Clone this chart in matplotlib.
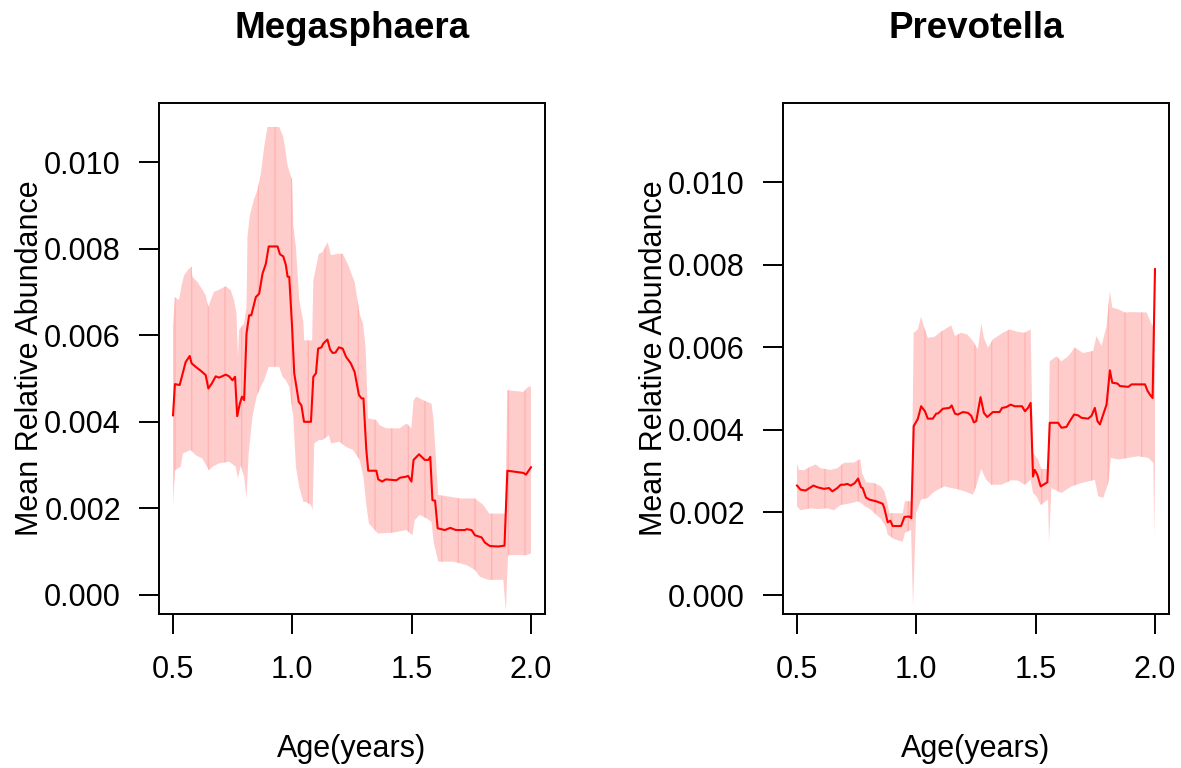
import numpy as np
import matplotlib.pyplot as plt

plt.rcParams['font.family'] = ['Liberation Sans', 'DejaVu Sans']

# ---- Megasphaera ----
mega_x = [0.500, 0.508, 0.528, 0.553, 0.570, 0.578, 0.595, 0.616, 0.637, 0.648, 0.662, 0.679, 0.693,
          0.721, 0.735, 0.749, 0.760, 0.769, 0.780, 0.789, 0.798, 0.808, 0.819, 0.828, 0.847, 0.861,
          0.875, 0.889, 0.901, 0.938, 0.948, 0.962, 0.973, 0.980, 0.987, 0.999, 1.008, 1.015, 1.027,
          1.038, 1.049, 1.078, 1.088, 1.099, 1.108, 1.122, 1.130, 1.147, 1.158, 1.169, 1.181, 1.195,
          1.211, 1.225, 1.245, 1.261, 1.279, 1.290, 1.298, 1.310, 1.318, 1.352, 1.360, 1.377, 1.391,
          1.436, 1.452, 1.475, 1.485, 1.499, 1.508, 1.531, 1.555, 1.570, 1.578, 1.587, 1.598, 1.609,
          1.639, 1.648, 1.662, 1.685, 1.723, 1.730, 1.751, 1.765, 1.793, 1.807, 1.828, 1.863, 1.889,
          1.901, 1.968, 1.979, 2.000]
mega_mean = [4.15, 4.87, 4.85, 5.38, 5.52, 5.35, 5.27, 5.18, 5.08, 4.77, 4.88, 5.05, 5.02,
             5.09, 5.05, 4.96, 5.04, 4.13, 4.42, 4.58, 4.50, 6.04, 6.46, 6.46, 6.88, 6.96,
             7.42, 7.65, 8.05, 8.05, 7.87, 7.82, 7.62, 7.35, 7.35, 6.19, 5.12, 4.88, 4.46,
             4.38, 4.00, 4.00, 5.04, 5.12, 5.69, 5.72, 5.81, 5.90, 5.67, 5.59, 5.60, 5.72,
             5.69, 5.50, 5.35, 5.15, 4.62, 4.54, 4.54, 3.35, 2.87, 2.87, 2.67, 2.62, 2.67,
             2.65, 2.71, 2.73, 2.75, 2.62, 3.12, 3.25, 3.12, 3.12, 3.19, 2.19, 2.18, 1.54,
             1.50, 1.52, 1.55, 1.50, 1.50, 1.52, 1.50, 1.38, 1.33, 1.21, 1.13, 1.12, 1.14,
             2.87, 2.82, 2.78, 2.95]

mega_hi_x = [0.500, 0.508, 0.525, 0.536, 0.546, 0.567, 0.578, 0.581, 0.602, 0.620, 0.637, 0.648, 0.658,
             0.672, 0.693, 0.721, 0.742, 0.756, 0.766, 0.772, 0.777, 0.798, 0.808, 0.812, 0.822, 0.840,
             0.854, 0.868, 0.882, 0.896, 0.945, 0.962, 0.971, 0.980, 0.999, 1.004, 1.015, 1.029, 1.046,
             1.050, 1.083, 1.088, 1.111, 1.127, 1.148, 1.162, 1.190, 1.211, 1.232, 1.261, 1.282, 1.296,
             1.307, 1.317, 1.352, 1.366, 1.394, 1.450, 1.478, 1.499, 1.508, 1.520, 1.548, 1.583, 1.592,
             1.611, 1.660, 1.702, 1.765, 1.800, 1.825, 1.892, 1.901, 1.968, 1.989, 2.000]
mega_hi = [6.21, 6.88, 6.81, 7.15, 7.38, 7.54, 7.58, 7.35, 7.23, 7.08, 6.92, 6.65, 6.81,
           7.00, 7.05, 7.13, 7.04, 6.81, 6.50, 5.50, 6.12, 6.27, 6.65, 8.27, 8.77, 9.15,
           9.35, 9.73, 10.35, 10.81, 10.81, 10.58, 10.27, 9.92, 9.58, 8.54, 8.04, 6.81, 6.31,
           5.88, 5.88, 7.27, 7.88, 7.92, 8.15, 7.85, 7.88, 7.88, 7.65, 7.23, 6.50, 6.27,
           5.73, 4.08, 4.04, 3.92, 3.85, 3.85, 3.96, 3.85, 4.50, 4.58, 4.50, 4.42, 4.04,
           2.31, 2.27, 2.23, 2.23, 2.08, 1.88, 1.88, 4.73, 4.69, 4.81, 4.81]

mega_lo_x = [0.500, 0.508, 0.532, 0.542, 0.574, 0.595, 0.623, 0.651, 0.665, 0.693, 0.735, 0.763, 0.772,
             0.784, 0.798, 0.808, 0.817, 0.833, 0.850, 0.868, 0.882, 0.901, 0.945, 0.959, 0.973, 0.987,
             1.004, 1.015, 1.029, 1.046, 1.057, 1.078, 1.085, 1.092, 1.111, 1.127, 1.153, 1.162, 1.197,
             1.225, 1.254, 1.282, 1.298, 1.310, 1.321, 1.359, 1.422, 1.478, 1.503, 1.513, 1.534, 1.562,
             1.583, 1.592, 1.611, 1.674, 1.730, 1.765, 1.786, 1.821, 1.884, 1.895, 1.903, 1.982, 2.000]
mega_lo = [2.08, 2.88, 2.96, 3.27, 3.35, 3.23, 3.15, 2.88, 2.96, 3.04, 3.08, 2.96, 2.69,
           3.00, 2.73, 2.23, 3.27, 4.12, 4.58, 4.81, 4.96, 5.27, 5.27, 5.04, 4.96, 4.81,
           4.12, 2.96, 2.50, 2.15, 2.15, 2.08, 1.96, 3.50, 3.58, 3.58, 3.69, 3.50, 3.54,
           3.42, 3.35, 3.12, 2.73, 2.08, 1.65, 1.42, 1.44, 1.50, 1.38, 1.73, 1.85, 1.77,
           1.69, 1.23, 0.77, 0.77, 0.69, 0.58, 0.42, 0.35, 0.35, -0.38, 0.92, 0.92, 0.96]

# ---- Prevotella ----
prev_x = [0.500, 0.515, 0.536, 0.569, 0.585, 0.613, 0.634, 0.648, 0.669, 0.683, 0.697, 0.711, 0.725,
          0.742, 0.756, 0.768, 0.775, 0.789, 0.803, 0.831, 0.859, 0.866, 0.880, 0.891, 0.901, 0.936,
          0.950, 0.971, 0.979, 0.989, 1.006, 1.020, 1.036, 1.048, 1.069, 1.083, 1.092, 1.111, 1.139,
          1.148, 1.162, 1.174, 1.195, 1.216, 1.230, 1.241, 1.251, 1.269, 1.283, 1.297, 1.321, 1.349,
          1.359, 1.377, 1.395, 1.412, 1.443, 1.455, 1.468, 1.479, 1.489, 1.496, 1.507, 1.521, 1.538,
          1.549, 1.559, 1.594, 1.608, 1.629, 1.643, 1.661, 1.678, 1.692, 1.720, 1.734, 1.748, 1.759,
          1.769, 1.783, 1.797, 1.811, 1.821, 1.843, 1.853, 1.888, 1.902, 1.958, 1.969, 1.979, 1.990,
          2.000]
prev_mean = [2.65, 2.55, 2.53, 2.65, 2.61, 2.57, 2.59, 2.51, 2.59, 2.67, 2.67, 2.69, 2.65,
             2.71, 2.82, 2.61, 2.59, 2.36, 2.31, 2.27, 2.21, 2.10, 1.76, 1.80, 1.67, 1.67,
             1.89, 1.90, 1.86, 4.09, 4.26, 4.57, 4.45, 4.27, 4.27, 4.39, 4.40, 4.51, 4.53,
             4.59, 4.39, 4.37, 4.43, 4.41, 4.34, 4.18, 4.21, 4.79, 4.41, 4.31, 4.43, 4.43,
             4.53, 4.55, 4.61, 4.57, 4.57, 4.45, 4.53, 4.65, 2.87, 3.03, 2.91, 2.63, 2.69,
             2.73, 4.17, 4.17, 4.05, 4.07, 4.21, 4.37, 4.35, 4.29, 4.27, 4.34, 4.53, 4.21,
             4.13, 4.37, 4.61, 5.44, 5.14, 5.12, 5.06, 5.04, 5.10, 5.10, 4.94, 4.85, 4.77,
             7.89]

prev_hi_x = [0.500, 0.508, 0.529, 0.557, 0.578, 0.599, 0.641, 0.669, 0.697, 0.739, 0.765, 0.773, 0.789,
             0.824, 0.852, 0.866, 0.877, 0.887, 0.943, 0.952, 0.980, 0.989, 1.006, 1.020, 1.031, 1.048,
             1.076, 1.097, 1.118, 1.146, 1.162, 1.188, 1.213, 1.237, 1.258, 1.272, 1.283, 1.300, 1.321,
             1.363, 1.391, 1.426, 1.454, 1.479, 1.489, 1.510, 1.524, 1.552, 1.559, 1.587, 1.608, 1.636,
             1.664, 1.699, 1.741, 1.755, 1.776, 1.797, 1.811, 1.821, 1.846, 1.874, 1.902, 1.965, 1.986,
             1.993, 2.000]
prev_hi = [3.20, 3.03, 3.02, 3.11, 3.16, 3.07, 3.03, 3.07, 3.20, 3.21, 3.29, 2.95, 2.73,
           2.71, 2.63, 2.51, 2.27, 1.98, 1.98, 2.27, 2.27, 6.35, 6.43, 6.74, 6.51, 6.23,
           6.25, 6.35, 6.43, 6.53, 6.27, 6.35, 6.31, 6.15, 5.95, 6.58, 6.23, 5.99, 6.19,
           6.35, 6.43, 6.37, 6.35, 6.43, 3.44, 3.28, 3.05, 3.05, 5.66, 5.78, 5.66, 5.78,
           5.99, 5.86, 5.91, 6.27, 6.03, 6.51, 7.36, 6.96, 6.92, 6.84, 6.85, 6.84, 6.55,
           6.51, 8.13]

prev_lo_x = [0.500, 0.515, 0.557, 0.585, 0.627, 0.655, 0.683, 0.725, 0.756, 0.770, 0.782, 0.810, 0.852,
             0.873, 0.880, 0.908, 0.943, 0.952, 0.978, 0.986, 0.999, 1.020, 1.048, 1.069, 1.090, 1.118,
             1.146, 1.174, 1.202, 1.237, 1.251, 1.272, 1.293, 1.314, 1.356, 1.398, 1.426, 1.454, 1.479,
             1.489, 1.503, 1.521, 1.552, 1.556, 1.566, 1.608, 1.650, 1.692, 1.748, 1.762, 1.783, 1.804,
             1.815, 1.846, 1.930, 1.972, 1.993, 1.997, 2.000]
prev_lo = [2.14, 2.05, 2.10, 2.08, 2.10, 2.05, 2.18, 2.22, 2.27, 2.22, 2.16, 2.06, 1.84,
           1.64, 1.46, 1.35, 1.29, 1.50, 1.58, -0.28, 1.98, 2.31, 2.35, 2.47, 2.55, 2.63,
           2.59, 2.56, 2.51, 2.43, 2.63, 3.05, 2.79, 2.67, 2.67, 2.78, 2.77, 2.67, 2.79,
           2.47, 2.39, 2.18, 2.31, 1.25, 2.59, 2.47, 2.63, 2.71, 2.79, 2.39, 2.35, 2.71,
           3.32, 3.28, 3.36, 3.32, 3.20, 1.42, 3.12]

panels = [
    ("Megasphaera", mega_x, mega_mean, mega_hi_x, mega_hi, mega_lo_x, mega_lo, (-0.000439, 0.011363)),
    ("Prevotella", prev_x, prev_mean, prev_hi_x, prev_hi, prev_lo_x, prev_lo, (-0.00046, 0.011913)),
]

fig = plt.figure(figsize=(11.81, 7.68), dpi=100)
lefts = [159 / 1181, 783 / 1181]

for left, (title, x, m, hx, hi, lx, lo, ylim) in zip(lefts, panels):
    ax = fig.add_axes([left, 1 - 614 / 768, 386 / 1181, 511 / 768])
    # band polygon: upper edge forward, lower edge back
    px = list(hx) + list(lx)[::-1]
    py = [v / 1000 for v in hi] + [v / 1000 for v in lo][::-1]
    ax.fill(px, py, color='#FFCCCC', lw=0, hatch='|', edgecolor='#FFB3B3')
    ax.plot(x, [v / 1000 for v in m], color='red', lw=1.5)

    ax.set_xlim(0.4413, 2.0587)
    ax.set_ylim(*ylim)
    ax.set_xticks([0.5, 1.0, 1.5, 2.0])
    ax.set_xticklabels(['0.5', '1.0', '1.5', '2.0'])
    ax.set_yticks([0.000, 0.002, 0.004, 0.006, 0.008, 0.010])
    ax.set_yticklabels(['%.3f' % t for t in [0.000, 0.002, 0.004, 0.006, 0.008, 0.010]])
    ax.tick_params(axis='both', length=14.4, width=1.4, labelsize=22, direction='out')
    ax.tick_params(axis='x', pad=15)
    ax.tick_params(axis='y', pad=13)
    for s in ax.spines.values():
        s.set_linewidth(1.4)

    ax.set_title(title, fontsize=26.5, fontweight='bold', pad=47)
    ax.set_xlabel('Age(years)', fontsize=22, va='baseline')
    ax.xaxis.set_label_coords(0.5, (614 - 757) / 511)
    ax.set_ylabel('Mean Relative Abundance', fontsize=22, va='baseline')
    ax.yaxis.set_label_coords(-121 / 386, 0.5)

plt.rcParams['hatch.linewidth'] = 0.6
fig.savefig('out.png', dpi=100)
